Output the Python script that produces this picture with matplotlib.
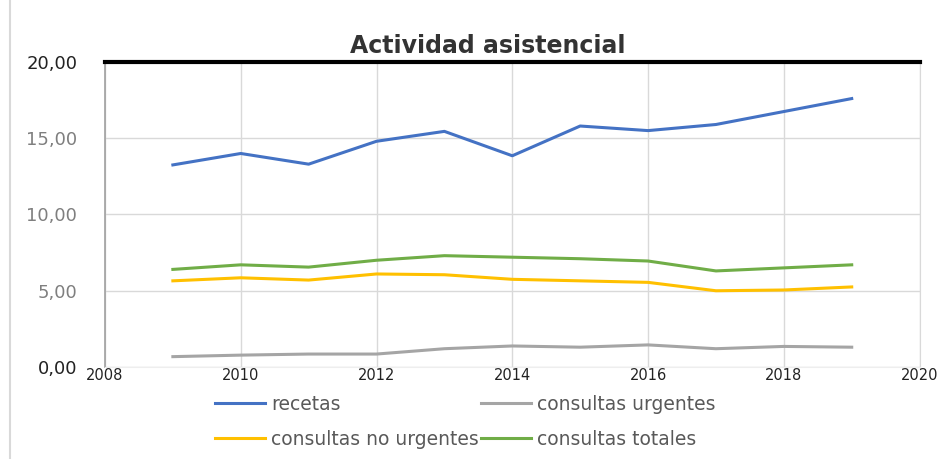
import matplotlib.pyplot as plt
from matplotlib.lines import Line2D

years = [2009, 2010, 2011, 2012, 2013, 2014, 2015, 2016, 2017, 2018, 2019]
recetas = [13.25, 14.0, 13.3, 14.8, 15.45, 13.85, 15.8, 15.5, 15.9, 16.75, 17.6]
urgentes = [0.68, 0.78, 0.85, 0.85, 1.2, 1.38, 1.3, 1.45, 1.2, 1.35, 1.3]
no_urgentes = [5.65, 5.85, 5.7, 6.1, 6.05, 5.75, 5.65, 5.55, 5.0, 5.05, 5.25]
totales = [6.4, 6.7, 6.55, 7.0, 7.3, 7.2, 7.1, 6.95, 6.3, 6.5, 6.7]

x_ticks = [2008, 2010, 2012, 2014, 2016, 2018, 2020]
y_ticks = [0, 5, 10, 15, 20]
y_labels = ["0,00", "5,00", "10,00", "15,00", "20,00"]

fig = plt.figure(figsize=(9.5, 4.59), dpi=100)
ax = fig.add_axes([0.1105, 0.2004, 0.8575, 0.6646])

ax.plot(years, recetas, color="#4472C4", lw=2.2, label="recetas")
ax.plot(years, urgentes, color="#A5A5A5", lw=2.2, label="consultas urgentes")
ax.plot(years, no_urgentes, color="#FFC000", lw=2.2, label="consultas no urgentes")
ax.plot(years, totales, color="#70AD47", lw=2.2, label="consultas totales")

ax.set_xlim(2008, 2020)
ax.set_ylim(0, 20)
ax.set_xticks(x_ticks)
ax.set_yticks(y_ticks)
ax.set_yticklabels(y_labels)
ax.grid(True, color="#d9d9d9", lw=1)
ax.set_axisbelow(True)
ax.tick_params(length=0)
ax.tick_params(axis="x", labelsize=10.5, labelcolor="#222222", pad=1)
ax.tick_params(axis="y", labelsize=13, labelcolor="#7f7f7f", pad=20)
for lbl in ax.get_yticklabels():
    if lbl.get_text() in ("0,00", "20,00"):
        lbl.set_color("#222222")

ax.spines["top"].set_color("black")
ax.spines["top"].set_linewidth(3)
ax.spines["left"].set_color("#a0a0a0")
ax.spines["left"].set_linewidth(1.2)
ax.spines["right"].set_color("#d9d9d9")
ax.spines["bottom"].set_color("#eeeeee")

fig.text(0.513, 0.9, "Actividad asistencial", fontsize=17, color="#333333",
         fontweight="bold", ha="center", va="center")

# outer border on the left of the chart area
fig.add_artist(Line2D([0.0105, 0.0105], [0.0, 1.0], color="#d9d9d9", lw=1.5))

# two rows: recetas / urgentes, then no urgentes / totales
handles, labels = ax.get_legend_handles_labels()
order = [0, 2, 1, 3]
fig.legend([handles[i] for i in order], [labels[i] for i in order],
           ncol=2, frameon=False, loc="upper left",
           bbox_to_anchor=(0.226, 0.14), fontsize=13.5, labelcolor="#595959",
           handlelength=2.7, handletextpad=0.3, columnspacing=0.1,
           labelspacing=0.85, borderaxespad=0, borderpad=0)

fig.savefig("out.png", dpi=100)
